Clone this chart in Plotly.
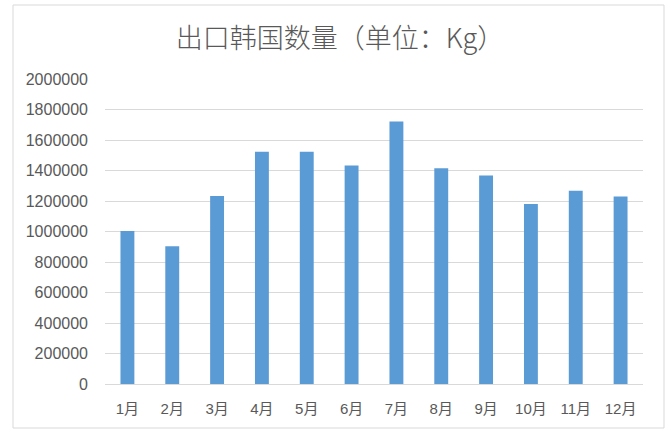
import plotly.graph_objects as go

months = ["1月", "2月", "3月", "4月", "5月", "6月", "7月", "8月", "9月", "10月", "11月", "12月"]
quantity_kg = [1004000, 904000, 1232000, 1523000, 1523000, 1433000, 1722000, 1414000, 1368000, 1180000, 1267000, 1230000]
y_ticks = [0, 200000, 400000, 600000, 800000, 1000000, 1200000, 1400000, 1600000, 1800000, 2000000]

W, H = 672, 433
ML, MR, MT, MB = 105, 29, 79, 49

fig = go.Figure(go.Bar(
    x=months, y=quantity_kg,
    marker=dict(color="#5b9bd5", line=dict(width=0)),
    hoverinfo="x+y",
))

pw = W - ML - MR
ph = H - MT - MB
def px_to_paper_x(px):
    return (px - ML) / pw
def px_to_paper_y(py):
    return 1 - (py - MT) / ph

fig.update_layout(
    width=W, height=H,
    margin=dict(l=ML, r=MR, t=MT, b=MB),
    paper_bgcolor="white", plot_bgcolor="white",
    bargap=0.69,
    showlegend=False,
    font=dict(family="Liberation Sans, Noto Sans CJK SC", size=15, color="#595959"),
    title=dict(
        text="出口韩国数量（单位：Kg）",
        x=340 / W, xanchor="center",
        y=1 - 39 / H, yanchor="middle",
        font=dict(family="Noto Sans CJK SC", size=27, color="#595959", weight=300),
    ),
    xaxis=dict(
        showgrid=False, showline=True, linecolor="#d9d9d9", linewidth=1,
        ticks="", ticklabelstandoff=11,
        tickfont=dict(family="Liberation Sans, Noto Sans CJK SC", size=15, color="#595959"),
    ),
    yaxis=dict(
        range=[0, 2000000], tickmode="array", tickvals=y_ticks,
        ticktext=[str(v) for v in y_ticks],
        showgrid=True, gridcolor="#d9d9d9", gridwidth=1,
        zeroline=False, showline=False, ticks="", ticklabelstandoff=16,
        tickfont=dict(family="Liberation Sans", size=16, color="#595959"),
    ),
    shapes=[dict(
        type="rect", xref="paper", yref="paper",
        x0=px_to_paper_x(13), x1=px_to_paper_x(664),
        y0=px_to_paper_y(428), y1=px_to_paper_y(5),
        line=dict(color="#d9d9d9", width=1), fillcolor="rgba(0,0,0,0)", layer="below",
    )],
)

fig.write_html(
    "out.html",
    config={"displayModeBar": False},
    post_script="document.body.style.margin='0';document.body.style.padding='0';",
)
